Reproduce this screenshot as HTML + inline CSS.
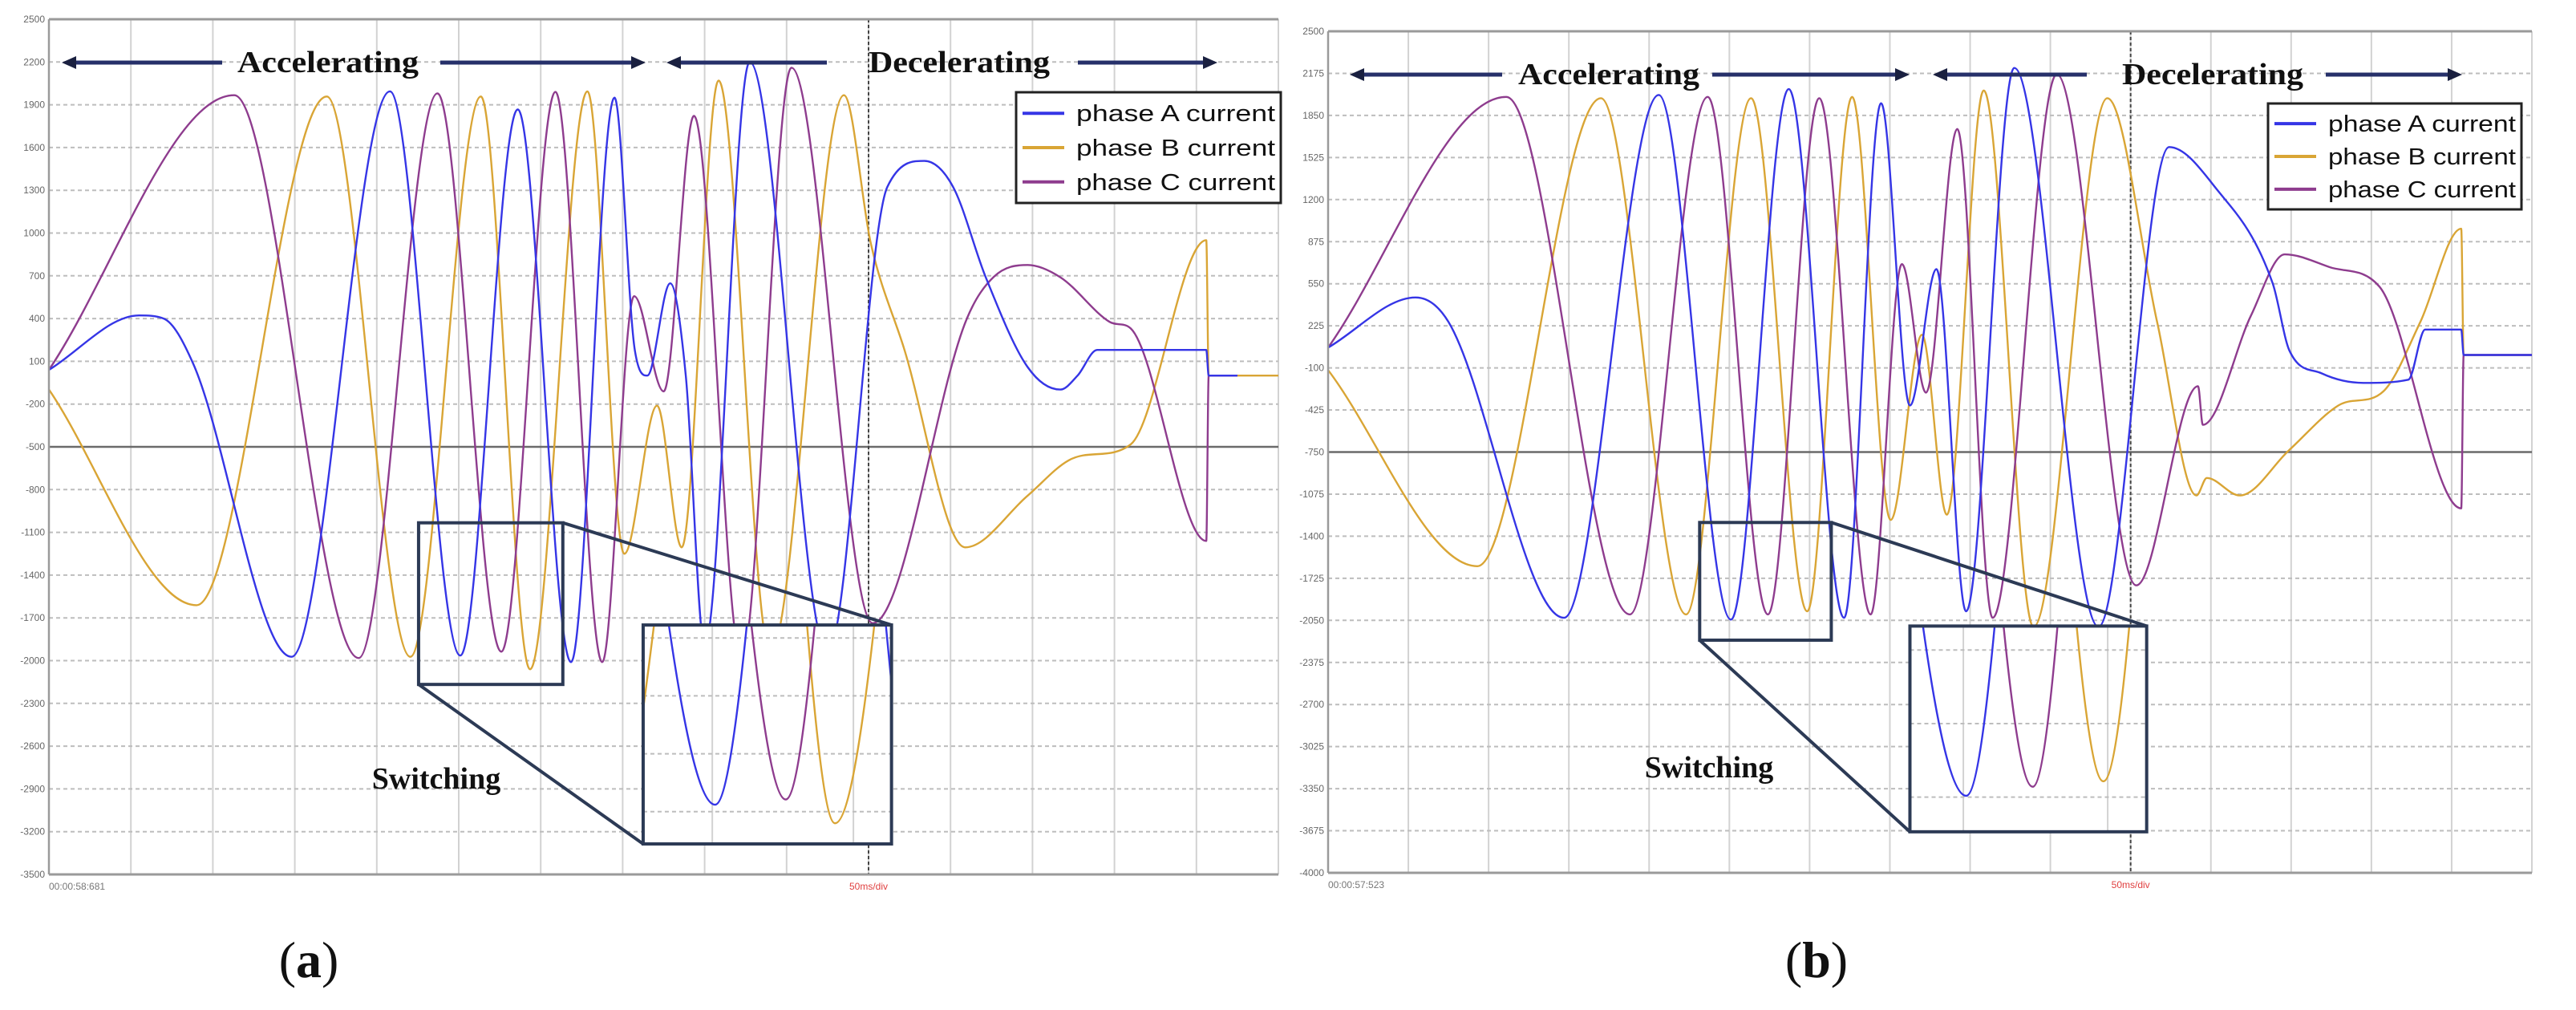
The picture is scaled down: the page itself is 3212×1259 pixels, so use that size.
<!DOCTYPE html>
<html><head><meta charset="utf-8"><style>
html,body{margin:0;padding:0;background:#fff;width:3212px;height:1259px;overflow:hidden;}
svg{display:block;}
</style></head><body>
<svg id="fig" xmlns="http://www.w3.org/2000/svg" width="3212" height="1259" viewBox="0 0 3212 1259" overflow="hidden"></svg>
<script>
// ---------- Panel (a) data ----------
const aTicks = [2500,2200,1900,1600,1300,1000,700,400,100,-200,-500,-800,-1100,-1400,-1700,-2000,-2300,-2600,-2900,-3200,-3500];
const aBlueT = [0,1.1,1.4,1.76,2.96,4.16,5.02,5.72,6.37,6.9,7.15,7.3,7.58,7.77,8.0,8.55,9.5,10.23,10.68,11.03,11.43,11.94,12.34,12.55,12.79,14.12,14.15,14.5];
const aBlueV = [40,422,400,83,-1973,1994,-1964,1867,-2010,1950,173,0,647,0,-1900,2200,-1950,1325,1506,1325,690,60,-98,0,180,180,0,0];
const aYelT = [0,1.8,3.39,4.41,5.27,5.87,6.57,7.02,7.42,7.72,8.17,8.8,9.7,10.03,10.43,11.18,11.94,12.44,13.2,14.12,14.15,15];
const aYelV = [-98,-1611,1958,-1973,1958,-2060,1994,-1250,-211,-1205,2070,-1950,1967,920,196,-1205,-843,-595,-482,950,0,0];
const aPurT = [0,2.26,3.78,4.74,5.52,6.18,6.75,7.14,7.5,7.87,8.45,9.06,10.05,11.2,11.53,11.94,12.34,12.94,13.2,14.12,14.15,14.5];
const aPurV = [40,1967,-1982,1980,-1937,1990,-2010,557,-111,1822,-2000,2160,-1737,400,694,776,690,377,330,-1160,0,0];
// ---------- Panel (b) data ----------
const bTicks = [2500,2175,1850,1525,1200,875,550,225,-100,-425,-750,-1075,-1400,-1725,-2050,-2375,-2700,-3025,-3350,-3675,-4000];
const bBlueT = [0,1.09,1.5,2.94,4.12,5.02,5.74,6.43,6.89,7.25,7.58,7.95,8.55,9.6,10.48,11.05,11.77,11.98,12.38,12.9,13.46,13.67,14.12,14.15,15];
const bBlueV = [57,444,255,-2030,2008,-2044,2053,-2030,1944,-390,663,-1980,2217,-2100,1606,1298,553,32,-142,-216,-191,196,196,0,0];
const bYelT = [0,1.86,3.4,4.46,5.27,5.97,6.53,7.01,7.4,7.71,8.17,8.79,9.71,10.33,10.82,10.95,11.36,11.97,12.59,13.15,13.61,14.12,14.15,15];
const bYelV = [-117,-1632,1983,-2004,1983,-1980,1993,-1274,156,-1234,2043,-2100,1983,255,-1085,-950,-1085,-738,-390,-281,255,975,0,0];
const bPurT = [0,2.22,3.76,4.73,5.48,6.12,6.76,7.15,7.45,7.84,8.28,9.08,10.07,10.84,10.9,11.5,11.92,12.48,13.1,14.12,14.15,15];
const bPurV = [57,1993,-2004,1993,-2004,1983,-2004,702,-291,1745,-2030,2167,-1780,-241,-540,305,777,678,528,-1185,0,0];

const NS = "http://www.w3.org/2000/svg";
const svg = document.getElementById('fig');
function mk(tag, attrs, parent){
  const e = document.createElementNS(NS, tag);
  for (const k in attrs) e.setAttribute(k, attrs[k]);
  (parent||svg).appendChild(e);
  return e;
}
function monoPath(xs, ys){
  const n = xs.length; const m = [], t = [];
  for (let i=0;i<n-1;i++){ const h = xs[i+1]-xs[i]; m.push(h===0?0:(ys[i+1]-ys[i])/h); }
  t[0]=m[0]; t[n-1]=m[n-2];
  for (let i=1;i<n-1;i++){
    if (m[i-1]*m[i]<=0) t[i]=0;
    else { let v=(m[i-1]+m[i])/2; const lim=3*Math.min(Math.abs(m[i-1]),Math.abs(m[i])); if (Math.abs(v)>lim) v=Math.sign(v)*lim; t[i]=v; }
  }
  let d = 'M'+xs[0].toFixed(1)+','+ys[0].toFixed(1);
  for (let i=0;i<n-1;i++){
    const h=(xs[i+1]-xs[i])/3;
    d+=' C'+(xs[i]+h).toFixed(1)+','+(ys[i]+t[i]*h).toFixed(1)+' '+(xs[i+1]-h).toFixed(1)+','+(ys[i+1]-t[i+1]*h).toFixed(1)+' '+xs[i+1].toFixed(1)+','+ys[i+1].toFixed(1);
  }
  return d;
}
const COL = {blue:'#3535e6', yel:'#d9a535', pur:'#8e3c8e'};

function panel(cfg){
  const sx = t => cfg.x0 + (cfg.x1-cfg.x0)*t/15;
  const sy = v => cfg.y0 + (cfg.vmax - v)/(cfg.vmax-cfg.vmin)*(cfg.y1-cfg.y0);
  const series = [['yel',cfg.yT,cfg.yV,'phase-b-current'],['pur',cfg.pT,cfg.pV,'phase-c-current'],['blue',cfg.bT,cfg.bV,'phase-a-current']];
  for (let i=1;i<=15;i++){
    const gl = mk('line',{x1:sx(i),x2:sx(i),y1:cfg.y0,y2:cfg.y1,stroke:'#d2d2d2','stroke-width':2});
    
    
  }
  cfg.ticks.forEach(v=>{
    const gl = mk('line',{x1:cfg.x0,x2:cfg.x1,y1:sy(v),y2:sy(v),stroke:'#bdbdbd','stroke-width':2,'stroke-dasharray':'5,4'});
    
    
  });
  const zl = mk('line',{x1:cfg.x0,x2:cfg.x1,y1:sy(cfg.zero),y2:sy(cfg.zero),stroke:'#6a6a6a','stroke-width':2.5});
  
  
  const cur = mk('line',{x1:sx(10),x2:sx(10),y1:cfg.y0,y2:cfg.y1,stroke:'#444','stroke-width':2,'stroke-dasharray':'4,3'});
  
  
  series.forEach(s=>{
    const p = mk('path',{d:monoPath(s[1].map(sx), s[2].map(sy)),fill:'none',stroke:COL[s[0]],'stroke-width':2.4,'stroke-linejoin':'round'});
    
    
  });
  mk('line',{x1:cfg.x0,x2:cfg.x1,y1:cfg.y0,y2:cfg.y0,stroke:'#9a9a9a','stroke-width':3});
  mk('line',{x1:cfg.x0,x2:cfg.x1,y1:cfg.y1,y2:cfg.y1,stroke:'#9a9a9a','stroke-width':3});
  mk('line',{x1:cfg.x0,x2:cfg.x0,y1:cfg.y0,y2:cfg.y1,stroke:'#9a9a9a','stroke-width':2.5});
  cfg.ticks.forEach(v=>{
    const tx = mk('text',{x:cfg.x0-5,y:sy(v)+4,'text-anchor':'end','font-family':'Liberation Sans, sans-serif','font-size':12,fill:'#666'});
    tx.textContent = v;
    
    
  });
  const ts = mk('text',{x:cfg.x0,y:cfg.y1+19,'font-family':'Liberation Sans, sans-serif','font-size':12,fill:'#777'});
  ts.textContent = cfg.stamp;
  
  
  const dv = mk('text',{x:sx(10),y:cfg.y1+19,'text-anchor':'middle','font-family':'Liberation Sans, sans-serif','font-size':12,fill:'#e04040'});
  dv.textContent = '50ms/div';
  
  

  // inset: magnified view of the small box
  const s = cfg.small, I = cfg.inset;
  const sX0=sx(s[0]), sX1=sx(s[1]), sY0=sy(s[2]), sY1=sy(s[3]);
  const iX0=sx(I[0]), iX1=sx(I[1]), iY0=sy(I[2]), iY1=sy(I[3]);
  const ix = t => iX0 + (sx(t)-sX0)*(iX1-iX0)/(sX1-sX0);
  const iy = v => iY0 + (sy(v)-sY0)*(iY1-iY0)/(sY1-sY0);
  const cp = mk('clipPath',{id:cfg.id+'-clip'});
  mk('rect',{x:iX0,y:iY0,width:iX1-iX0,height:iY1-iY0},cp);
  mk('rect',{x:iX0,y:iY0,width:iX1-iX0,height:iY1-iY0,fill:'#fff'});
  const ig = mk('g',{'clip-path':'url(#'+cfg.id+'-clip)'});
  
  
  for (let i=1;i<=15;i++){ if (i>s[0] && i<s[1]) mk('line',{x1:ix(i),x2:ix(i),y1:iY0,y2:iY1,stroke:'#d2d2d2','stroke-width':2},ig); }
  cfg.ticks.forEach(v=>{ if (v<s[2] && v>s[3]) mk('line',{x1:iX0,x2:iX1,y1:iy(v),y2:iy(v),stroke:'#bdbdbd','stroke-width':2,'stroke-dasharray':'5,4'},ig); });
  series.forEach(se=>{
    const T=se[1], V=se[2];
    let lo=0, hi=T.length-1;
    for (let k=0;k<T.length;k++){ if (T[k]<s[0]) lo=k; }
    for (let k=T.length-1;k>=0;k--){ if (T[k]>s[1]) hi=k; }
    const ts2=T.slice(lo,hi+1), vs2=V.slice(lo,hi+1);
    const p = mk('path',{d:monoPath(ts2.map(ix), vs2.map(iy)),fill:'none',stroke:COL[se[0]],'stroke-width':2.4},ig);
    
    
  });
  const bc='#2c3a55';
  const sb = mk('rect',{x:sX0,y:sY0,width:sX1-sX0,height:sY1-sY0,fill:'none',stroke:bc,'stroke-width':4});
  
  
  const ib = mk('rect',{x:iX0,y:iY0,width:iX1-iX0,height:iY1-iY0,fill:'none',stroke:bc,'stroke-width':4});
  
  
  mk('line',{x1:sX1,y1:sY0,x2:iX1,y2:iY0,stroke:bc,'stroke-width':4});
  mk('line',{x1:sX0,y1:sY1,x2:iX0,y2:iY1,stroke:bc,'stroke-width':4});
  const sw = mk('text',{x:cfg.swX,y:cfg.swY,'text-anchor':'middle','font-family':'Liberation Serif, serif','font-weight':'bold','font-size':38,fill:'#111'});
  sw.textContent='Switching';
  
  

  const ay = cfg.arrowY;
  cfg.arrows.forEach(a=>{
    const ar = mk('g',{});
    
    
    const dir = a[1]>a[0]?1:-1;
    mk('line',{x1:a[0],y1:ay,x2:a[1]-dir*12,y2:ay,stroke:'#26306a','stroke-width':5},ar);
    mk('polygon',{points:a[1]+','+ay+' '+(a[1]-dir*18)+','+(ay-8)+' '+(a[1]-dir*18)+','+(ay+8),fill:'#1a2040'},ar);
  });
  [['Accelerating',cfg.accX,'accelerating-label'],['Decelerating',cfg.decX,'decelerating-label']].forEach(t=>{
    const tx = mk('text',{x:t[1],y:ay+12,'font-family':'Liberation Serif, serif','font-weight':'bold','font-size':38,fill:'#111',textLength:226,lengthAdjust:'spacingAndGlyphs'});
    tx.textContent=t[0];
    
    
  });
  const L = cfg.legend;
  const lg = mk('g',{});
  
  
  mk('rect',{x:L[0],y:L[1],width:L[2],height:L[3],fill:'#fff',stroke:'#222','stroke-width':3},lg);
  [['blue','phase A current'],['yel','phase B current'],['pur','phase C current']].forEach((e,i)=>{
    const ey = L[1]+L[3]*(0.19+0.31*i);
    const en = mk('g',{},lg);
    
    
    mk('line',{x1:L[0]+8,x2:L[0]+60,y1:ey,y2:ey,stroke:COL[e[0]],'stroke-width':4},en);
    const tx = mk('text',{x:L[0]+75,y:ey+10,'font-family':'Liberation Sans, sans-serif','font-size':29,fill:'#111',textLength:L[2]-82,lengthAdjust:'spacingAndGlyphs'},en);
    tx.textContent=e[1];
  });
  const pl = mk('text',{x:cfg.labX,y:1218,'text-anchor':'middle','font-family':'Liberation Serif, serif','font-size':64,fill:'#111'});
  pl.innerHTML = '(<tspan font-weight="bold">'+cfg.lab+'</tspan>)';
  
  
}

panel({id:'pa',x0:61,x1:1594,y0:24,y1:1090,vmax:2500,vmin:-3500,zero:-500,ticks:aTicks,
  bT:aBlueT,bV:aBlueV,yT:aYelT,yV:aYelV,pT:aPurT,pV:aPurV,stamp:'00:00:58:681',
  small:[4.51,6.27,-1033,-2167],inset:[7.25,10.28,-1750,-3286],swX:544,swY:983,
  arrowY:78,arrows:[[277,77],[549,805],[1031,831],[1344,1518]],accX:296,decX:1083,
  legend:[1267,115,330,138],labX:385,lab:'a'});
panel({id:'pb',x0:1656,x1:3157,y0:39,y1:1088,vmax:2500,vmin:-4000,zero:-750,ticks:bTicks,
  bT:bBlueT,bV:bBlueV,yT:bYelT,yV:bYelV,pT:bPurT,pV:bPurV,stamp:'00:00:57:523',
  small:[4.63,6.27,-1294,-2203],inset:[7.25,10.2,-2094,-3683],swX:2131,swY:969,
  arrowY:93,arrows:[[1873,1683],[2135,2381],[2602,2410],[2900,3070]],accX:1893,decX:2646,
  legend:[2828,129,316,132],labX:2265,lab:'b'});
</script>
</body></html>
